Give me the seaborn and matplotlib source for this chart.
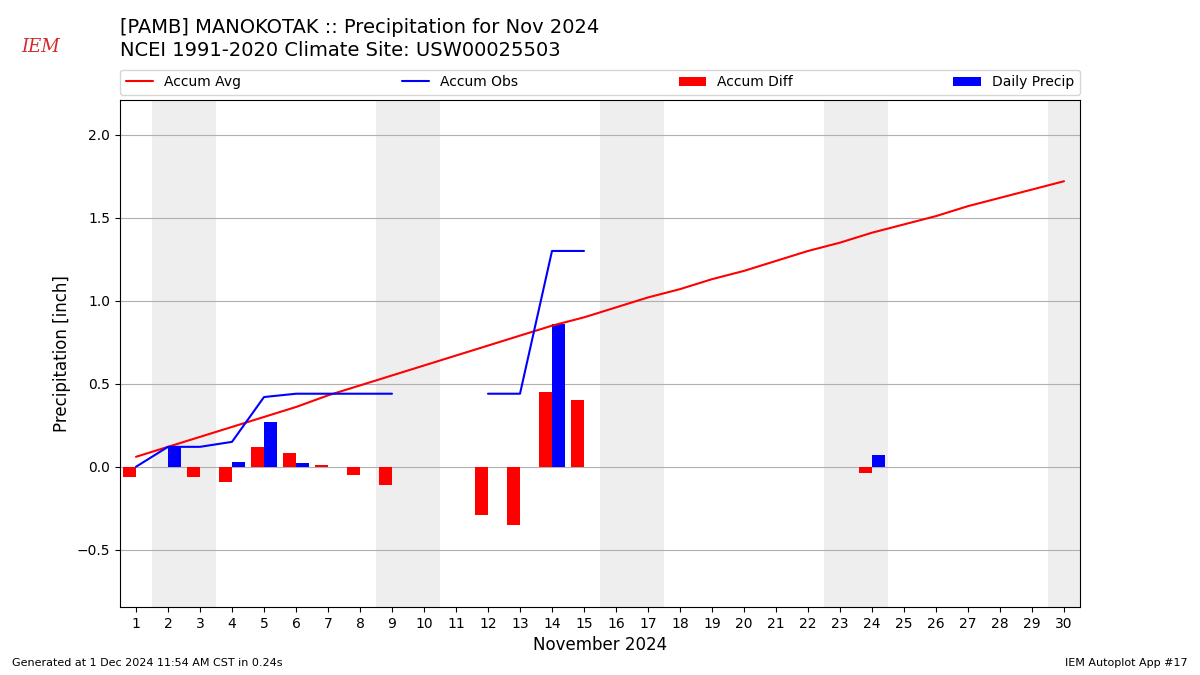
import numpy as np
import pandas as pd
import matplotlib
matplotlib.use("Agg")
import matplotlib.pyplot as plt
import seaborn as sns

days = list(range(1, 31))
accum_avg = [0.06, 0.12, 0.18, 0.24, 0.30, 0.36, 0.43, 0.49, 0.55, 0.61,
             0.67, 0.73, 0.79, 0.85, 0.90, 0.96, 1.02, 1.07, 1.13, 1.18,
             1.24, 1.30, 1.35, 1.41, 1.46, 1.51, 1.57, 1.62, 1.67, 1.72]
nan = np.nan
accum_obs = [0.00, 0.12, 0.12, 0.15, 0.42, 0.44, 0.44, 0.44, 0.44, nan,
             nan, 0.44, 0.44, 1.30, 1.30, nan, nan, nan, nan, nan,
             nan, nan, nan, nan, nan, nan, nan, nan, nan, nan]
accum_diff = [-0.06, 0.00, -0.06, -0.09, 0.12, 0.08, 0.01, -0.05, -0.11, nan,
              nan, -0.29, -0.35, 0.45, 0.40, nan, nan, nan, nan, nan,
              nan, nan, nan, -0.04, nan, nan, nan, nan, nan, nan]
daily_precip = [0.00, 0.12, 0.00, 0.03, 0.27, 0.02, 0.00, 0.00, 0.00, nan,
                nan, 0.00, 0.00, 0.86, 0.00, nan, nan, nan, nan, nan,
                nan, nan, nan, 0.07, nan, nan, nan, nan, nan, nan]
weekend_days = [2, 3, 9, 10, 16, 17, 23, 24, 30]

df = pd.DataFrame({"day": days, "avg": accum_avg, "obs": accum_obs,
                   "diff": accum_diff, "precip": daily_precip})
df["seg"] = df["obs"].isna().cumsum()

sns.set_style("ticks", rc={"text.color": "black", "axes.labelcolor": "black",
                           "xtick.color": "black", "ytick.color": "black",
                           "axes.edgecolor": "black",
                           "patch.edgecolor": "none"})
plt.rcParams["font.family"] = ["DejaVu Sans"]

fig = plt.figure(figsize=(12, 6.75), dpi=100)
ax = fig.add_axes([0.1, 0.1007, 0.8, 0.7513])

for d in weekend_days:
    ax.axvspan(d - 0.5, d + 0.5, color="#EEEEEE", zorder=0, lw=0)

ax.bar(df["day"], df["diff"], width=-0.4, align="edge", color="r",
       label="Accum Diff", zorder=3, linewidth=0)
ax.bar(df["day"], df["precip"], width=0.4, align="edge", color="b",
       label="Daily Precip", zorder=3, linewidth=0)

sns.lineplot(data=df, x="day", y="avg", color="r", ax=ax, label="Accum Avg",
             zorder=4, lw=1.5)
obs = df.dropna(subset=["obs"])
sns.lineplot(data=obs, x="day", y="obs", units="seg", estimator=None,
             color="b", ax=ax, label="Accum Obs", zorder=4, lw=1.5)

ax.set_xlim(0.5, 30.5)
ax.set_ylim(-0.845, 2.21)
ax.set_xticks(days)
ax.set_yticks([-0.5, 0.0, 0.5, 1.0, 1.5, 2.0])
ax.yaxis.grid(True, color="#b0b0b0", lw=0.8, zorder=1)
ax.set_axisbelow(True)
ax.tick_params(labelsize=10, direction="out", length=3.5, colors="black")
for s in ax.spines.values():
    s.set_visible(True)
    s.set_color("black")
    s.set_linewidth(0.8)
ax.set_xlabel("November 2024", fontsize=12)
ax.set_ylabel("Precipitation [inch]", fontsize=12)

h, l = ax.get_legend_handles_labels()
order = ["Accum Avg", "Accum Obs", "Accum Diff", "Daily Precip"]
hl = dict(zip(l, h))
ax.legend([hl[k] for k in order], order, loc="lower left",
          bbox_to_anchor=(0, 1.01, 1, 0.05), mode="expand", ncol=4,
          fontsize=10, borderaxespad=0, frameon=True)

fig.text(0.1, 0.945, "[PAMB] MANOKOTAK :: Precipitation for Nov 2024",
         fontsize=14, va="bottom", ha="left")
fig.text(0.1, 0.94, "NCEI 1991-2020 Climate Site: USW00025503",
         fontsize=14, va="top", ha="left")
fig.text(0.01, 0.01, "Generated at 1 Dec 2024 11:54 AM CST in 0.24s",
         fontsize=8, ha="left", va="bottom")
fig.text(0.99, 0.01, "IEM Autoplot App #17", fontsize=8, ha="right",
         va="bottom")
fig.text(0.018, 0.93, "IEM", fontsize=13, color="#d42a2a", style="italic",
         family="DejaVu Serif", ha="left", va="center")

fig.savefig("out.png", dpi=100)
